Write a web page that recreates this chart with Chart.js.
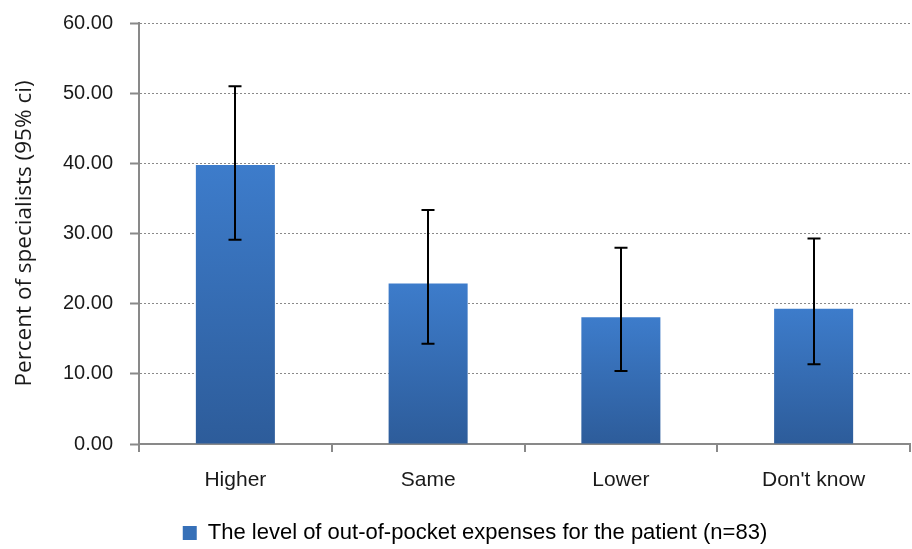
<!DOCTYPE html>
<html>
<head>
<meta charset="utf-8">
<script src="https://cdn.jsdelivr.net/npm/chart.js@4.4.1/dist/chart.umd.min.js"></script>
<style>
  html, body { margin: 0; padding: 0; background: #ffffff; }
  #wrap { width: 912px; height: 549px; position: relative; }
</style>
</head>
<body>
<div id="wrap"><canvas id="c" width="912" height="549"></canvas></div>
<script>
// ---- data ----
const categories = ["Higher", "Same", "Lower", "Don't know"];
const percentValues = [39.76, 22.89, 18.07, 19.28];
const ciLower = [29.1, 14.3, 10.4, 11.35];
const ciUpper = [51.0, 33.35, 27.97, 29.3];
const seriesLabel = "The level of out-of-pocket expenses for the patient (n=83)";
const yAxisTitle = "Percent of specialists (95% ci)";
const yTicks = [0, 10, 20, 30, 40, 50, 60];

const narrowFont = "'Liberation Sans Narrow', 'Arial Narrow', 'Liberation Sans', Arial, sans-serif";
const textColor = '#1a1a1a';
const axisColor = '#898989';

function barGradient(context) {
  const chart = context.chart;
  const area = chart.chartArea;
  if (!area || context.type !== 'data') return '#3670B8';
  const yScale = chart.scales.y;
  const top = yScale.getPixelForValue(context.parsed.y);
  const base = yScale.getPixelForValue(0);
  const g = chart.ctx.createLinearGradient(0, top, 0, base);
  g.addColorStop(0, '#3D7CCB');
  g.addColorStop(1, '#2D5C9A');
  return g;
}

const errorBars = {
  id: 'errorBars',
  afterDatasetsDraw(chart) {
    const meta = chart.getDatasetMeta(0);
    const y = chart.scales.y;
    const c = chart.ctx;
    c.save();
    c.strokeStyle = '#000000';
    c.lineWidth = 2;
    meta.data.forEach((bar, i) => {
      const x = Math.round(bar.x);
      const yt = y.getPixelForValue(ciUpper[i]);
      const yb = y.getPixelForValue(ciLower[i]);
      const cap = 6.5;
      c.beginPath();
      c.moveTo(x, yt); c.lineTo(x, yb);
      c.moveTo(x - cap, yt); c.lineTo(x + cap, yt);
      c.moveTo(x - cap, yb); c.lineTo(x + cap, yb);
      c.stroke();
    });
    c.restore();
  }
};

const legendShift = {
  id: 'legendShift',
  afterLayout(chart) {
    const lg = chart.legend;
    if (lg) { lg.left += 20; lg.right += 20; lg.top += 5; lg.bottom += 5; }
  }
};

new Chart(document.getElementById('c'), {
  type: 'bar',
  data: {
    labels: categories,
    datasets: [{
      label: seriesLabel,
      data: percentValues,
      backgroundColor: barGradient,
      borderWidth: 0,
      categoryPercentage: 1.0,
      barPercentage: 0.41
    }]
  },
  options: {
    responsive: false,
    animation: false,
    devicePixelRatio: 1,
    layout: { padding: { left: 0, right: 2, top: 0, bottom: 0 } },
    plugins: {
      tooltip: { enabled: false },
      legend: {
        position: 'bottom',
        labels: {
          color: textColor,
          font: { family: narrowFont, size: 22 },
          boxWidth: 14,
          boxHeight: 14,
          padding: 1,
          generateLabels(chart) {
            return [{
              text: seriesLabel,
              fillStyle: '#3670B8',
              strokeStyle: '#3670B8',
              lineWidth: 0,
              hidden: false,
              datasetIndex: 0
            }];
          }
        }
      }
    },
    scales: {
      x: {
        grid: {
          offset: true,
          drawOnChartArea: false,
          drawTicks: true,
          tickLength: 8,
          color: axisColor,
          lineWidth: 2
        },
        border: { color: axisColor, width: 2 },
        ticks: {
          color: textColor,
          font: { family: narrowFont, size: 21 },
          padding: 16
        },
        afterFit(scale) { scale.height = 72; }
      },
      y: {
        min: 0,
        max: 60,
        afterBuildTicks(scale) { scale.ticks = yTicks.map(v => ({ value: v })); },
        grid: {
          color: '#8a8a8a',
          lineWidth: 1,
          drawTicks: true,
          tickLength: 9,
          tickColor: axisColor,
          tickWidth: 2,
          tickBorderDash: []
        },
        border: { color: axisColor, width: 2, dash: [2, 2] },
        ticks: {
          color: textColor,
          font: { family: narrowFont, size: 20 },
          padding: 17,
          callback: (v) => Number(v).toFixed(2)
        },
        title: {
          display: true,
          text: yAxisTitle,
          color: textColor,
          font: { family: "'Open Sans', 'Noto Sans', sans-serif", size: 22.5 },
          padding: { top: 11, bottom: 0 }
        },
        afterFit(scale) {
          scale.width = 139;
          scale.paddingTop = 23;
          scale.paddingBottom = 0;
        }
      }
    }
  },
  plugins: [errorBars, legendShift]
});
</script>
</body>
</html>
